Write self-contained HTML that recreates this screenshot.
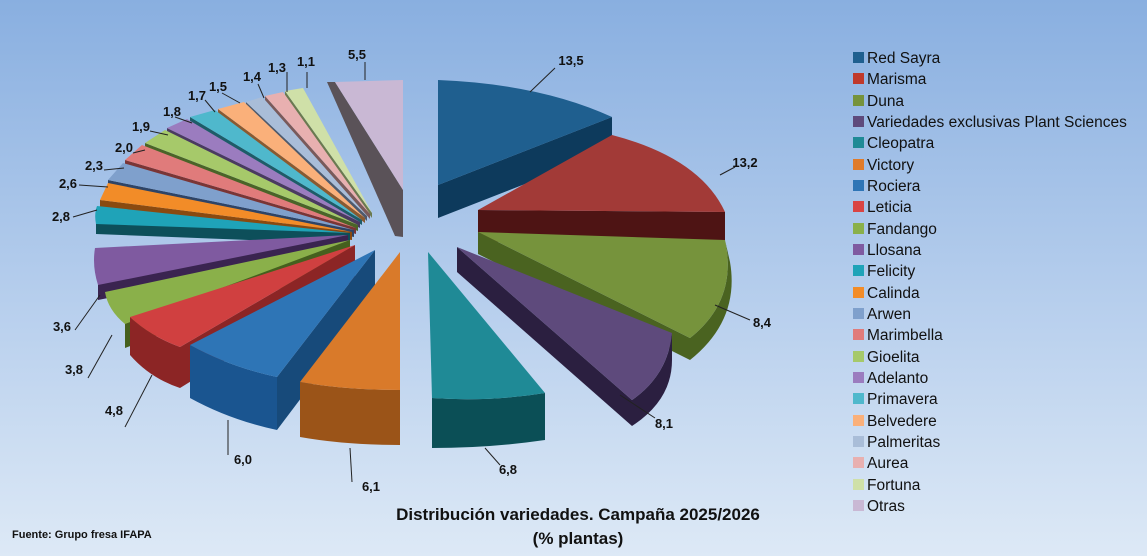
<!DOCTYPE html>
<html><head><meta charset="utf-8"><style>
body{margin:0;width:1147px;height:556px;overflow:hidden;background:linear-gradient(#89afe0,#b3ccec 50%,#dde9f6);font-family:"Liberation Sans",sans-serif}
svg{position:absolute;left:0;top:0}
.l{font:bold 13px "Liberation Sans",sans-serif;fill:#111}
.g{font:15.5px "Liberation Sans",sans-serif;fill:#111}
</style></head><body>
<svg width="1147" height="556" viewBox="0 0 1147 556">
<g stroke="none">
<polygon points="327,82 395,236 403,237 403,190 335,82" fill="#5a5258"/>
<polygon points="335,82 403,80 403,190" fill="#c9b8d4"/>
<polygon points="372,213 285,91 285,95 372,218" fill="#6b7a50"/><polygon points="372,213 303,88 285,91" fill="#cfe0a8"/>
<polygon points="370,214 265,96 265,100 370,219" fill="#7a5a5a"/><polygon points="370,214 283,92 265,96" fill="#e8b0b0"/>
<polygon points="367,216 246,102 246,106 367,221" fill="#4e5a6c"/><polygon points="367,216 262,97 246,102" fill="#a9bdd8"/>
<polygon points="365,218 218,109 218,114 365,223" fill="#8a5a30"/><polygon points="365,218 244,102 218,109" fill="#fab07a"/>
<polygon points="362,220 190,117 190,122 362,225" fill="#1e5c68"/><polygon points="362,220 215,110 190,117" fill="#4fb8cc"/>
<polygon points="360,222 167,128 167,134 360,228" fill="#4a3a60"/><polygon points="360,222 187,119 167,128" fill="#9b7cbf"/>
<polygon points="358,225 145,143 145,149 358,231" fill="#4a6428"/><polygon points="358,225 165,130 145,143" fill="#a6c96a"/>
<polygon points="356,228 125,160 125,167 356,234" fill="#7a3535"/><polygon points="356,228 142,145 125,160" fill="#e07b7b"/>
<polygon points="354,230 108,180 108,188 354,237" fill="#2e4466"/><polygon points="354,230 123,163 108,180" fill="#7fa0cc"/>
<polygon points="352,232 100,200 100,210 352,240" fill="#8a4a10"/><polygon points="352,232 108,183 100,200" fill="#f28c28"/>
<polygon points="350,233 96,222 96,234 350,244" fill="#0d4f5a"/><path d="M350,233 L97,206 Q94,214 96,224 Z" fill="#1fa3b8"/>
<polygon points="348,235 98,283 98,300 348,250" fill="#3a2450"/><path d="M348,235 L95,248 Q92,266 98,285 Z" fill="#7f5aa0"/>
<polygon points="350,240 125,322 125,348 350,262" fill="#45601e"/><path d="M350,240 L105,292 Q108,310 125,324 Z" fill="#8ab04a"/>
<polygon points="355,245 180,347 180,388 355,280" fill="#8c2525"/><path d="M130,317 Q150,336 180,347 L180,388 Q150,378 130,355 Z" fill="#8c2525"/><path d="M355,245 L130,317 Q150,336 180,347 Z" fill="#d04040"/>
<polygon points="375,250 277,377 277,430 375,300" fill="#174a7a"/><path d="M190,345 Q230,367 277,377 L277,430 Q230,420 190,398 Z" fill="#1a5590"/><path d="M375,250 L190,345 Q230,367 277,377 Z" fill="#2e75b6"/>
<path d="M300,382 Q345,390 400,390 L400,445 Q345,445 300,437 Z" fill="#9b5418"/><path d="M400,252 L400,390 Q345,390 300,382 Z" fill="#d97a2a"/>
<polygon points="438,185 612,117 612,150 438,218" fill="#0d3a5c"/>
<path d="M438,185 L438,80 Q540,84 612,117 Z" fill="#1f5f8f"/>
<polygon points="478,210 725,212 725,242 478,242" fill="#4e1414"/>
<path d="M478,210 L612,135 Q700,158 725,212 Z" fill="#a23a37"/>
<path d="M725,240 Q738,300 690,338 L690,360 Q740,320 730,262 Z" fill="#4a6320"/>
<polygon points="478,232 690,338 690,360 478,254" fill="#4a6320"/>
<path d="M478,232 L725,240 Q738,300 690,338 Z" fill="#76933c"/>
<polygon points="457,247 632,400 632,426 457,272" fill="#2b1f40"/>
<path d="M672,333 Q668,375 632,400 L632,426 Q672,400 672,360 Z" fill="#2b1f40"/>
<path d="M457,247 L672,333 Q668,375 632,400 Z" fill="#5e4a7c"/>
<path d="M432,398 Q490,402 545,393 L545,440 Q490,448 432,448 Z" fill="#0b4f56"/>
<path d="M428,252 L545,393 Q490,402 432,398 Z" fill="#1f8a96"/>
</g>
<g stroke="#222" stroke-width="1" fill="none">
<polyline points="555,68 530,92"/><polyline points="735,167 720,175"/><polyline points="750,320 715,305"/>
<polyline points="655,418 620,395"/><polyline points="500,465 485,448"/><polyline points="352,482 350,448"/>
<polyline points="228,455 228,420"/><polyline points="125,427 152,375"/><polyline points="88,378 112,335"/>
<polyline points="75,330 100,295"/><polyline points="73,217 97,210"/><polyline points="79,185 108,187"/>
<polyline points="104,170 124,168"/><polyline points="133,153 145,150"/><polyline points="150,131 168,135"/>
<polyline points="175,117 192,123"/><polyline points="205,100 215,112"/><polyline points="222,93 240,103"/>
<polyline points="258,84 264,98"/><polyline points="287,72 287,92"/><polyline points="307,72 307,88"/><polyline points="365,62 365,80"/>
</g>
<g class="l" text-anchor="middle">
<text x="571" y="65">13,5</text><text x="745" y="167">13,2</text><text x="762" y="327">8,4</text>
<text x="664" y="428">8,1</text><text x="508" y="474">6,8</text><text x="371" y="491">6,1</text>
<text x="243" y="464">6,0</text><text x="114" y="415">4,8</text><text x="74" y="374">3,8</text>
<text x="62" y="331">3,6</text><text x="61" y="221">2,8</text><text x="68" y="188">2,6</text>
<text x="94" y="170">2,3</text><text x="124" y="152">2,0</text><text x="141" y="131">1,9</text>
<text x="172" y="116">1,8</text><text x="197" y="100">1,7</text><text x="218" y="91">1,5</text>
<text x="252" y="81">1,4</text><text x="277" y="72">1,3</text><text x="306" y="66">1,1</text><text x="357" y="59">5,5</text>
</g>
<g class="g">
<rect x="853" y="52" width="11" height="11" fill="#1f5f8f"/><text x="867" y="63">Red Sayra</text>
<rect x="853" y="73" width="11" height="11" fill="#c0392b"/><text x="867" y="84">Marisma</text>
<rect x="853" y="95" width="11" height="11" fill="#76933c"/><text x="867" y="106">Duna</text>
<rect x="853" y="116" width="11" height="11" fill="#5e4a7c"/><text x="867" y="127">Variedades exclusivas Plant Sciences</text>
<rect x="853" y="137" width="11" height="11" fill="#1f8a96"/><text x="867" y="148">Cleopatra</text>
<rect x="853" y="159" width="11" height="11" fill="#e07b2a"/><text x="867" y="170">Victory</text>
<rect x="853" y="180" width="11" height="11" fill="#2e75b6"/><text x="867" y="191">Rociera</text>
<rect x="853" y="201" width="11" height="11" fill="#d94444"/><text x="867" y="212">Leticia</text>
<rect x="853" y="223" width="11" height="11" fill="#8ab04a"/><text x="867" y="234">Fandango</text>
<rect x="853" y="244" width="11" height="11" fill="#7f5aa0"/><text x="867" y="255">Llosana</text>
<rect x="853" y="265" width="11" height="11" fill="#1fa3b8"/><text x="867" y="276">Felicity</text>
<rect x="853" y="287" width="11" height="11" fill="#f28c28"/><text x="867" y="298">Calinda</text>
<rect x="853" y="308" width="11" height="11" fill="#7fa0cc"/><text x="867" y="319">Arwen</text>
<rect x="853" y="329" width="11" height="11" fill="#e07b7b"/><text x="867" y="340">Marimbella</text>
<rect x="853" y="351" width="11" height="11" fill="#a6c96a"/><text x="867" y="362">Gioelita</text>
<rect x="853" y="372" width="11" height="11" fill="#9b7cbf"/><text x="867" y="383">Adelanto</text>
<rect x="853" y="393" width="11" height="11" fill="#4fb8cc"/><text x="867" y="404">Primavera</text>
<rect x="853" y="415" width="11" height="11" fill="#fab07a"/><text x="867" y="426">Belvedere</text>
<rect x="853" y="436" width="11" height="11" fill="#a9bdd8"/><text x="867" y="447">Palmeritas</text>
<rect x="853" y="457" width="11" height="11" fill="#e8b0b0"/><text x="867" y="468">Aurea</text>
<rect x="853" y="479" width="11" height="11" fill="#cfe0a8"/><text x="867" y="490">Fortuna</text>
<rect x="853" y="500" width="11" height="11" fill="#c9b8d4"/><text x="867" y="511">Otras</text>
</g>
<g font-family="Liberation Sans" font-weight="bold" fill="#111" text-anchor="middle" font-size="17">
<text x="578" y="520">Distribución variedades. Campaña 2025/2026</text>
<text x="578" y="544">(% plantas)</text>
</g>
<text x="12" y="538" font-family="Liberation Sans" font-weight="bold" font-size="11" fill="#111">Fuente: Grupo fresa IFAPA</text>
</svg>
</body></html>
